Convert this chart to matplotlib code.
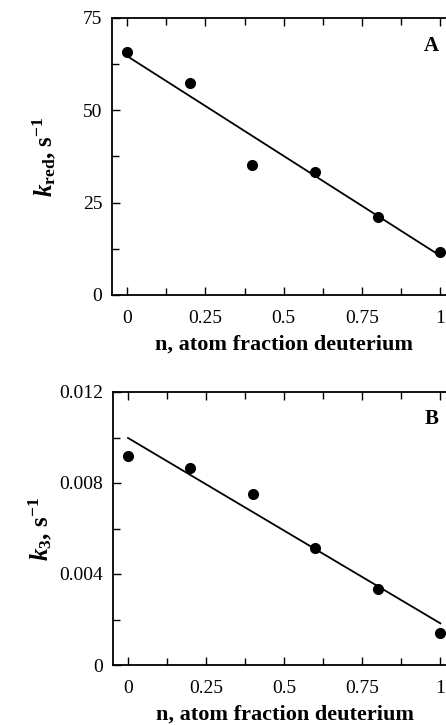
import matplotlib.pyplot as plt
from matplotlib.ticker import MultipleLocator, FixedLocator

plt.rcParams['font.family'] = ['Liberation Serif', 'DejaVu Serif']
plt.rcParams['mathtext.fontset'] = 'custom'
plt.rcParams['mathtext.rm'] = 'Liberation Serif:bold'
plt.rcParams['mathtext.it'] = 'Liberation Serif:bold:italic'
plt.rcParams['mathtext.bf'] = 'Liberation Serif:bold'

# data
n_frac = [0, 0.2, 0.4, 0.6, 0.8, 1.0]
k_red = [65.9, 57.5, 35.3, 33.3, 21.1, 11.6]
k_3 = [0.00919, 0.00866, 0.00751, 0.00515, 0.00332, 0.00142]
fit_x = [0, 1.0]
fit_red = [64.7, 10.6]
fit_k3 = [0.00998, 0.00183]

W, H = 446, 725
fig = plt.figure(figsize=(W / 100, H / 100), dpi=100)

def px_axes(left, top, right, bottom):
    return fig.add_axes([left / W, 1 - bottom / H, (right - left) / W, (bottom - top) / H])

def style(ax, ymax, ystep, ylabels, letter):
    ax.set_xlim(-0.048, 1.05)
    ax.set_ylim(0, ymax)
    ax.xaxis.set_major_locator(FixedLocator([0, 0.25, 0.5, 0.75, 1.0]))
    ax.xaxis.set_minor_locator(MultipleLocator(0.125))
    ax.set_xticklabels(['0', '0.25', '0.5', '0.75', '1'])
    ax.yaxis.set_major_locator(MultipleLocator(ystep))
    ax.yaxis.set_minor_locator(MultipleLocator(ystep / 2))
    ax.set_yticks([i * ystep for i in range(len(ylabels))])
    ax.set_yticklabels(ylabels)
    ax.tick_params(which='both', direction='in', top=True, right=False,
                   labelsize=14, width=1)
    ax.tick_params(which='major', length=6)
    ax.tick_params(which='minor', length=5)
    ax.tick_params(axis='x', pad=11)
    ax.tick_params(axis='y', pad=7)
    ax.spines['right'].set_visible(False)
    for s in ['left', 'bottom', 'top']:
        ax.spines[s].set_linewidth(1.3)
    ax.set_xlabel('n, atom fraction deuterium', fontsize=16, fontweight='bold', labelpad=5)
    ax.text(0.995, ymax * 0.9, letter, fontsize=15, fontweight='bold', ha='right', va='center')

axA = px_axes(112, 18, 456, 295)
axA.plot(fit_x, fit_red, color='black', lw=1.3)
axA.plot(n_frac, k_red, 'o', color='black', ms=7)
style(axA, 75, 25, ['0', '25', '50', '75'], 'A')
axA.set_ylabel(r'$k_{\mathrm{red}}$, s$^{\mathbf{-1}}$', fontsize=18, fontweight='bold', labelpad=18)

axB = px_axes(113, 392, 456, 665)
axB.plot(fit_x, fit_k3, color='black', lw=1.3)
axB.plot(n_frac, k_3, 'o', color='black', ms=7)
style(axB, 0.012, 0.004, ['0', '0.004', '0.008', '0.012'], 'B')
axB.set_ylabel(r'$k_{\mathrm{3}}$, s$^{\mathbf{-1}}$', fontsize=18, fontweight='bold', labelpad=4)

fig.savefig('out.png', dpi=100)
